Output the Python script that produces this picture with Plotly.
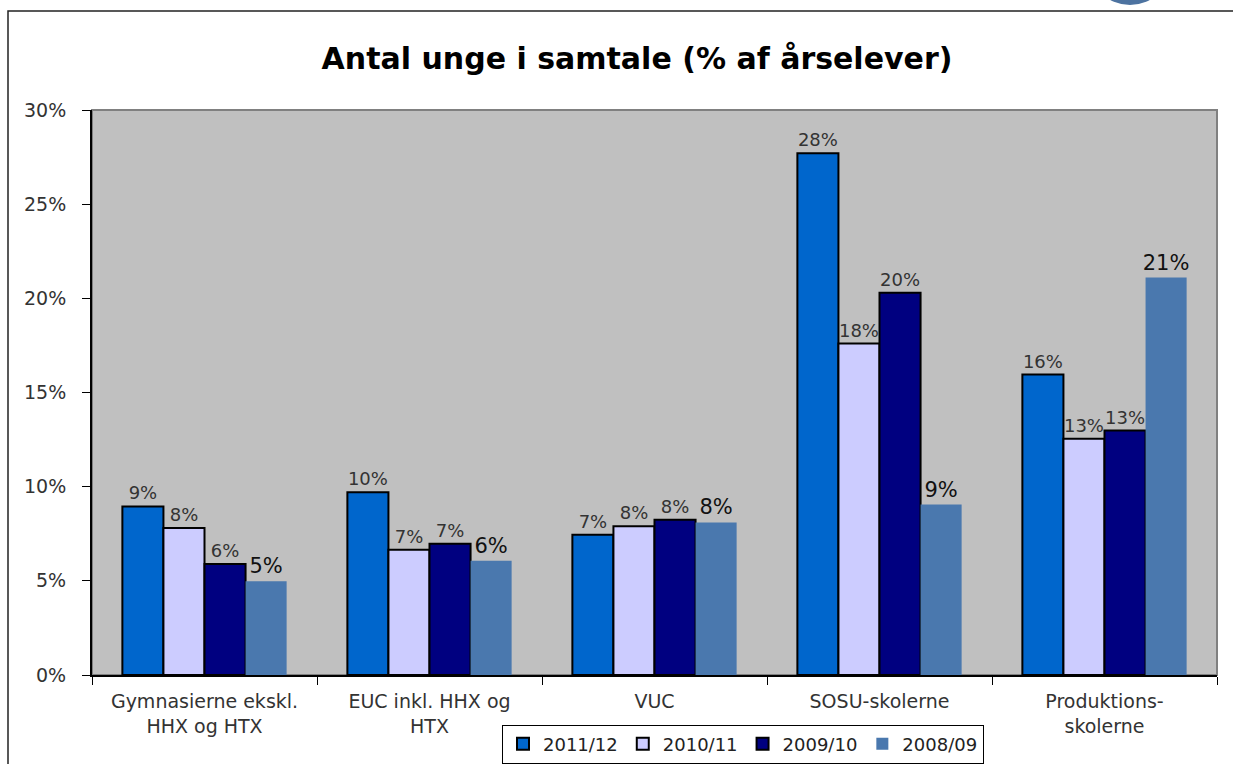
import plotly.graph_objects as go

categories = [
    "Gymnasierne ekskl.<br>HHX og HTX",
    "EUC inkl. HHX og<br>HTX",
    "VUC",
    "SOSU-skolerne",
    "Produktions-<br>skolerne",
]
years = ["2011/12", "2010/11", "2009/10", "2008/09"]
v_2011_12 = [8.95, 9.7, 7.45, 27.7, 15.95]
v_2010_11 = [7.8, 6.65, 7.9, 17.6, 12.55]
v_2009_10 = [5.9, 6.97, 8.25, 20.3, 12.98]
v_2008_09 = [4.98, 6.06, 8.1, 9.05, 21.1]

series = [v_2011_12, v_2010_11, v_2009_10, v_2008_09]
colors = ["#0066CC", "#CCCCFF", "#000080", "#4A78AE"]

FONT = "DejaVu Sans"

fig = go.Figure()
for i, (name, vals) in enumerate(zip(years, series)):
    last = i == 3
    fig.add_trace(go.Bar(
        name=name, x=categories, y=vals,
        marker=dict(color=colors[i],
                    line=dict(color="black", width=0 if last else 2)),
        texttemplate="%{y:.0f}%",
        textposition="outside",
        constraintext="none",
        cliponaxis=False,
        textfont=dict(family=FONT, size=21 if last else 18,
                      color="#111" if last else "#333"),
    ))

W, H = 1233, 764
L, R, T, B = 92, 16, 110, 89
pw, ph = W - L - R, H - T - B


def px(x):
    return (x - L) / pw


def py(y):
    return (H - B - y) / ph


fig.update_layout(
    width=W, height=H,
    margin=dict(l=L, r=R, t=T, b=B, autoexpand=False),
    paper_bgcolor="white", plot_bgcolor="#C0C0C0",
    barmode="group", bargap=0.27, bargroupgap=0,
    title=dict(text="<b>Antal unge i samtale (% af årselever)</b>",
               x=637 / W, xanchor="center", y=1 - 58 / H, yanchor="middle",
               font=dict(family=FONT, size=30, color="black")),
    font=dict(family=FONT, size=18, color="#333"),
    showlegend=True,
    legend=dict(orientation="h", x=px(743), xanchor="center",
                y=py(744), yanchor="middle",
                bordercolor="black", borderwidth=1, bgcolor="white",
                font=dict(family=FONT, size=18, color="#222"),
                itemwidth=30, traceorder="normal"),
    xaxis=dict(showline=True, linecolor="black", linewidth=2,
               ticks="outside", tickson="boundaries", ticklen=8,
               tickcolor="black", tickwidth=1, ticklabelstandoff=8,
               tickfont=dict(family=FONT, size=19, color="#333")),
    yaxis=dict(range=[0, 30], dtick=5, ticksuffix="%",
               showgrid=False, zeroline=False,
               showline=True, linecolor="black", linewidth=2,
               ticks="outside", ticklen=8, tickcolor="black", tickwidth=1,
               ticklabelstandoff=12,
               tickfont=dict(family=FONT, size=19, color="#333")),
    shapes=[
        # gray plot area border (top / right)
        dict(type="rect", xref="paper", yref="paper", x0=0, x1=1, y0=0, y1=1,
             line=dict(color="#808080", width=2), layer="below"),
        # outer frame
        dict(type="rect", xref="paper", yref="paper",
             x0=px(8), x1=px(1245), y0=py(775), y1=py(11),
             line=dict(color="#222", width=1.5)),
        # partial logo circle at top
        dict(type="circle", xref="paper", yref="paper",
             x0=px(1088), x1=px(1172), y0=py(5), y1=py(-80),
             fillcolor="#4D73A0", line=dict(width=0)),
    ],
)

fig.write_html("out.html", config={"displayModeBar": False},
               post_script="document.body.style.margin='0';")
